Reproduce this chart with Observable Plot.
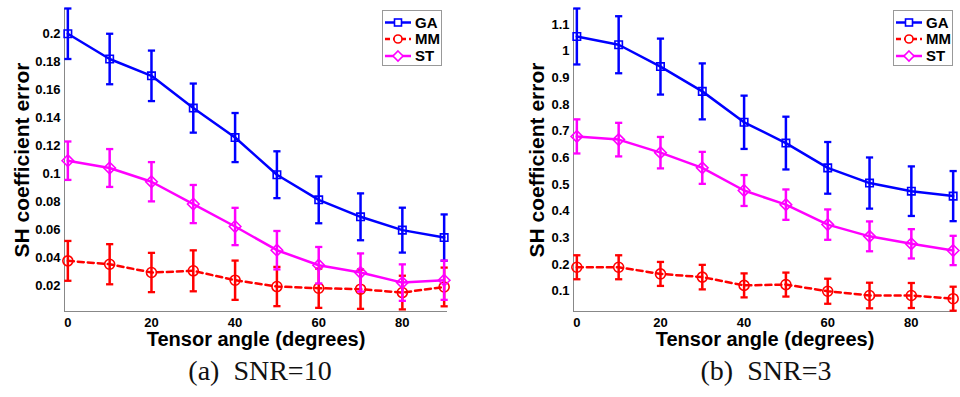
<!DOCTYPE html>
<html>
<head>
<meta charset="utf-8">
<script src="https://cdn.jsdelivr.net/npm/d3@7"></script>
<script src="https://cdn.jsdelivr.net/npm/@observablehq/plot@0.6"></script>
<style>
  html, body { margin: 0; padding: 0; background: #fff; }
  #wrap { position: relative; width: 960px; height: 397px; overflow: hidden; background: #fff; }
  .panel { position: absolute; top: 0; }
  .legend { position: absolute; top: 10px; width: 60px; height: 56px; border: 1px solid #999; background: #fff; box-sizing: border-box; }
  .caption { position: absolute; top: 357px; width: 300px; text-align: center; font-family: "Liberation Serif", "Times New Roman", serif; font-size: 28px; line-height: 28px; white-space: pre; color: #111; }
</style>
</head>
<body>
<div id="wrap">
  <div class="panel" id="left" style="left:0px"></div>
  <div class="panel" id="right" style="left:480px"></div>
  <div class="legend" id="legL" style="left:382px"></div>
  <div class="legend" id="legR" style="left:893px"></div>
  <div class="caption" style="left:110px">(a)  SNR=10</div>
  <div class="caption" style="left:616px">(b)  SNR=3</div>
</div>
<script>
// ---------- data ----------
const angles = [0, 10, 20, 30, 40, 50, 60, 70, 80, 90];
const seriesNames = ["GA", "MM", "ST"];
const seriesColors = ["#0000ff", "#ff0000", "#ff00ff"];

// (a) SNR=10
const ga10 = [0.200, 0.182, 0.170, 0.147, 0.126, 0.0995, 0.0816, 0.0695, 0.060, 0.0547];
const gaErr10 = [0.018, 0.018, 0.018, 0.0175, 0.0175, 0.0167, 0.0167, 0.0167, 0.016, 0.0165];
const mm10 = [0.0381, 0.0357, 0.0298, 0.031, 0.0243, 0.0198, 0.0186, 0.0179, 0.0155, 0.0195];
const mmErr10 = [0.0142, 0.0143, 0.014, 0.0146, 0.014, 0.014, 0.014, 0.014, 0.012, 0.0138];
const st10 = [0.1095, 0.1043, 0.0945, 0.0786, 0.0626, 0.0457, 0.035, 0.0298, 0.0226, 0.0243];
const stErr10 = [0.0137, 0.0135, 0.014, 0.0136, 0.0133, 0.0137, 0.013, 0.0136, 0.013, 0.014];

// (b) SNR=3
const ga3 = [1.055, 1.024, 0.942, 0.849, 0.733, 0.655, 0.562, 0.505, 0.4745, 0.456];
const gaErr3 = [0.105, 0.107, 0.105, 0.105, 0.100, 0.099, 0.097, 0.096, 0.093, 0.094];
const mm3 = [0.189, 0.189, 0.164, 0.152, 0.121, 0.124, 0.099, 0.083, 0.083, 0.071];
const mmErr3 = [0.045, 0.045, 0.045, 0.046, 0.045, 0.045, 0.047, 0.048, 0.047, 0.045];
const st3 = [0.680, 0.668, 0.619, 0.562, 0.477, 0.424, 0.349, 0.305, 0.277, 0.252];
const stErr3 = [0.064, 0.063, 0.059, 0.060, 0.058, 0.057, 0.057, 0.056, 0.055, 0.055];

// tick labels
const xTicks = [0, 20, 40, 60, 80];
const yTicks10 = [0.02, 0.04, 0.06, 0.08, 0.1, 0.12, 0.14, 0.16, 0.18, 0.2];
const yTicks3 = [0.1, 0.2, 0.3, 0.4, 0.5, 0.6, 0.7, 0.8, 0.9, 1, 1.1];

const xLabel = "Tensor angle (degrees)";
const yLabel = "SH coefficient error";

// ---------- helpers ----------
function rows(means, errs, name) {
  return angles.map((a, i) => ({angle: a, value: means[i], lo: means[i] - errs[i], hi: means[i] + errs[i], series: name}));
}
const capSymbol = {
  draw(context, size) {
    const w = Math.sqrt(size / Math.PI);
    context.moveTo(-w, 0);
    context.lineTo(w, 0);
  }
};
const markerSymbols = {GA: "square", MM: "circle", ST: "diamond2"};
const markerR = {GA: 4.2, MM: 5, ST: 5.2};

function seriesMarks(data, name, color) {
  const dash = name === "MM" ? "6,4" : null;
  return [
    Plot.line(data, {x: "angle", y: "value", stroke: color, strokeWidth: 2.5, strokeDasharray: dash}),
    Plot.ruleX(data, {x: "angle", y1: "lo", y2: "hi", stroke: color, strokeWidth: 2.5}),
    Plot.dot(data, {x: "angle", y: "lo", symbol: capSymbol, r: 3.6, stroke: color, strokeWidth: 2.3, fill: "none"}),
    Plot.dot(data, {x: "angle", y: "hi", symbol: capSymbol, r: 3.6, stroke: color, strokeWidth: 2.3, fill: "none"}),
    Plot.dot(data, {x: "angle", y: "value", symbol: markerSymbols[name], r: markerR[name], stroke: color, strokeWidth: 1.6, fill: "none"})
  ];
}

const FONT = "'Liberation Sans', Arial, sans-serif";

function makePanel(opts) {
  const {ga, gaErr, mm, mmErr, st, stErr, yDomain, yTicks, marginLeft, marginRight, yLabelOffset} = opts;
  const data = [rows(ga, gaErr, "GA"), rows(mm, mmErr, "MM"), rows(st, stErr, "ST")];
  const xDomain = [-0.8, 90.8];
  return Plot.plot({
    width: 480,
    height: 350,
    marginLeft, marginRight,
    marginTop: 8,
    marginBottom: 39,
    style: {fontFamily: FONT, fontWeight: "bold", fontSize: "13px", color: "#000", background: "#fff"},
    x: {domain: xDomain},
    y: {domain: yDomain},
    marks: [
      Plot.axisX({ticks: xTicks, tickSize: 0, tickPadding: 6, fontSize: 13, fontWeight: "bold", fill: "#000", label: null, tickFormat: d => String(d)}),
      Plot.axisY({ticks: yTicks, tickSize: 0, tickPadding: 4, fontSize: 13, fontWeight: "bold", fill: "#000", label: null, tickFormat: d => String(d)}),
      Plot.ruleX([xDomain[0]], {stroke: "#888", strokeWidth: 1}),
      Plot.ruleY([yDomain[0]], {stroke: "#888", strokeWidth: 1}),
      ...seriesMarks(data[0], "GA", seriesColors[0]),
      ...seriesMarks(data[1], "MM", seriesColors[1]),
      ...seriesMarks(data[2], "ST", seriesColors[2]),
      Plot.text([xLabel], {frameAnchor: "bottom", lineAnchor: "middle", dy: 28, fontSize: 20, fontWeight: "bold", fill: "#000", fontFamily: FONT}),
      Plot.text([yLabel], {frameAnchor: "left", lineAnchor: "middle", textAnchor: "middle", rotate: -90, dx: yLabelOffset, fontSize: 21, fontWeight: "bold", fill: "#000", fontFamily: FONT})
    ]
  });
}

document.getElementById("left").appendChild(makePanel({
  ga: ga10, gaErr: gaErr10, mm: mm10, mmErr: mmErr10, st: st10, stErr: stErr10,
  yDomain: [0.002, 0.218], yTicks: yTicks10, marginLeft: 64, marginRight: 33, yLabelOffset: -42
}));
document.getElementById("right").appendChild(makePanel({
  ga: ga3, gaErr: gaErr3, mm: mm3, mmErr: mmErr3, st: st3, stErr: stErr3,
  yDomain: [0.023, 1.16], yTicks: yTicks3, marginLeft: 93, marginRight: 4, yLabelOffset: -36
}));

// ---------- legends ----------
function legendSVG() {
  const ns = "http://www.w3.org/2000/svg";
  const svg = document.createElementNS(ns, "svg");
  svg.setAttribute("width", 58);
  svg.setAttribute("height", 54);
  const ys = [11.5, 28, 45];
  seriesNames.forEach((name, i) => {
    const color = seriesColors[i];
    const y = ys[i];
    const line = document.createElementNS(ns, "line");
    line.setAttribute("x1", 2); line.setAttribute("x2", 28);
    line.setAttribute("y1", y); line.setAttribute("y2", y);
    line.setAttribute("stroke", color); line.setAttribute("stroke-width", 2.5);
    if (name === "MM") line.setAttribute("stroke-dasharray", "5,3");
    svg.appendChild(line);
    let m;
    if (name === "GA") {
      m = document.createElementNS(ns, "rect");
      m.setAttribute("x", 15 - 3.5); m.setAttribute("y", y - 3.5);
      m.setAttribute("width", 7); m.setAttribute("height", 7);
    } else if (name === "MM") {
      m = document.createElementNS(ns, "circle");
      m.setAttribute("cx", 15); m.setAttribute("cy", y); m.setAttribute("r", 4);
    } else {
      m = document.createElementNS(ns, "path");
      m.setAttribute("d", `M15,${y - 5}L20,${y}L15,${y + 5}L10,${y}Z`);
    }
    m.setAttribute("fill", "#fff"); m.setAttribute("stroke", color); m.setAttribute("stroke-width", 1.6);
    svg.appendChild(m);
    const t = document.createElementNS(ns, "text");
    t.setAttribute("x", 32); t.setAttribute("y", y + 5.3);
    t.setAttribute("font-family", FONT);
    t.setAttribute("font-weight", "bold"); t.setAttribute("font-size", 15);
    t.textContent = name;
    svg.appendChild(t);
  });
  return svg;
}
document.getElementById("legL").appendChild(legendSVG());
document.getElementById("legR").appendChild(legendSVG());
</script>
</body>
</html>
